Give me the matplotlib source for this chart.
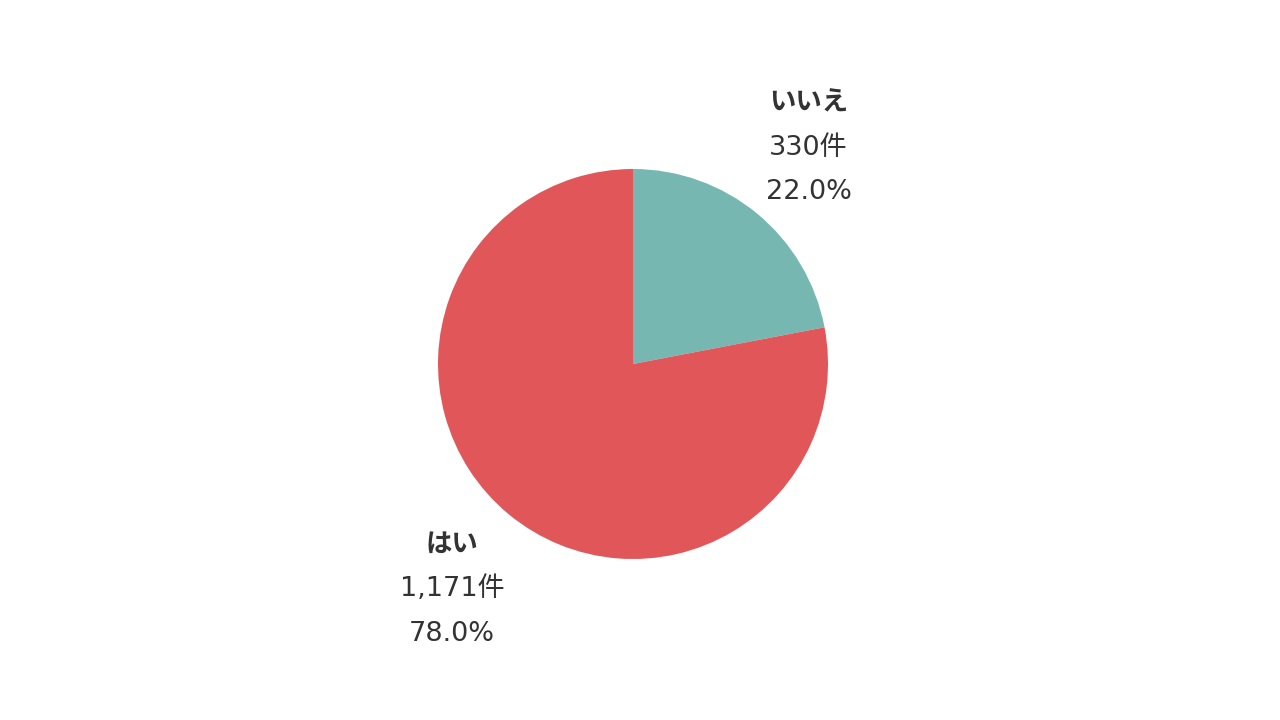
import matplotlib
matplotlib.use("Agg")
import matplotlib.pyplot as plt

plt.rcParams['font.family'] = ['DejaVu Sans', 'Noto Sans CJK JP']

categories = ["いいえ", "はい"]
counts = [330, 1171]
percents = [22.0, 78.0]
colors = ["#76B7B2", "#E15759"]

W, H = 1280, 720
fig = plt.figure(figsize=(W / 100, H / 100), dpi=100)
cx, cy, r = 633, 364, 195
ax = fig.add_axes([(cx - r) / W, (H - cy - r) / H, 2 * r / W, 2 * r / H])
ax.pie(counts, colors=colors, startangle=90, counterclock=False, radius=1,
       wedgeprops=dict(linewidth=0))
ax.set_xlim(-1, 1)
ax.set_ylim(-1, 1)
ax.set_aspect('equal')
ax.axis('off')

label_pos = {
    "いいえ": (0.9, [1.337, 1.106, 0.882]),
    "はい": (-0.928, [-0.928, -1.154, -1.384]),
}
tc = "#333333"
fs = 19.5
for cat, n, p in zip(categories, counts, percents):
    x, ys = label_pos[cat]
    ax.text(x, ys[0], cat, ha='center', va='center', fontsize=fs - 0.5,
            fontweight='bold', color=tc, clip_on=False)
    ax.text(x, ys[1], f"{n:,}件", ha='center', va='center', fontsize=fs,
            color=tc, clip_on=False)
    ax.text(x, ys[2], f"{p:.1f}%", ha='center', va='center', fontsize=fs,
            color=tc, clip_on=False)

fig.savefig("out.png", dpi=100)
